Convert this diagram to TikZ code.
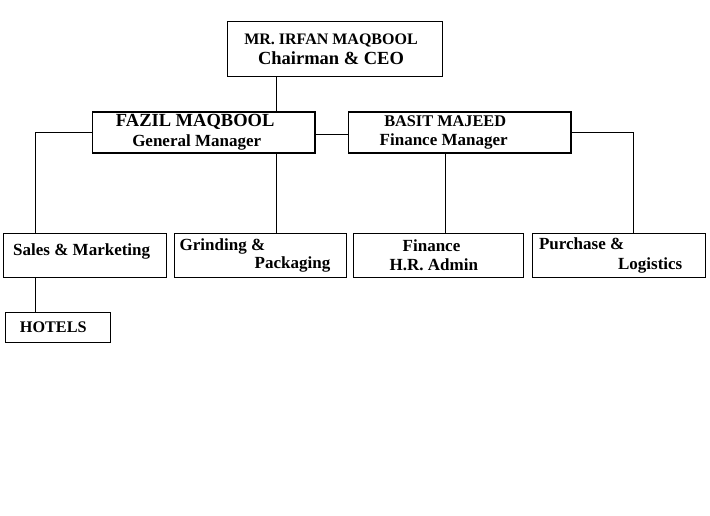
\documentclass[tikz,border=0pt]{standalone}
\usepackage{fontspec}
\setmainfont{Liberation Serif}
\usetikzlibrary{positioning}

\begin{document}
\begin{tikzpicture}[
  x=1pt, y=-1pt,
  node distance=8pt,
  box/.style={draw, line width=1.3pt, inner sep=2pt, align=center, minimum height=44pt,
    font=\bfseries\fontsize{17}{19.5}\selectfont},
  link/.style={line width=1.3pt}
]
\useasboundingbox (0,0) rectangle (710,516);

% top level
\node[box, minimum width=215pt, minimum height=55pt] (ceo) at (335,49.3)
  {{\fontsize{16}{19}\selectfont MR. IRFAN MAQBOOL}\hspace*{8pt}\\
   {\fontsize{18.5}{20}\selectfont Chairman \& CEO}\hspace*{8pt}};

% managers
\node[box, minimum width=222.5pt, minimum height=41pt] (gm) at (203.7,132.4)
  {{\fontsize{18.5}{20}\selectfont FAZIL MAQBOOL}\hspace*{17pt}\\[1pt]
   General Manager\hspace*{14pt}};
\node[box, minimum width=222.5pt, minimum height=41pt, right=32.2pt of gm] (fm)
  {{\fontsize{16.3}{19}\selectfont BASIT MAJEED}\hspace*{29pt}\\[-1pt]
   Finance Manager\hspace*{32pt}};

% departments
\node[box, minimum width=163.4pt, text depth=11pt] (sales) at (85,255.3)
  {Sales \& Marketing\hspace*{6.6pt}};
\node[box, minimum width=172.4pt, align=left, right=6.3pt of sales] (grind)
  {Grinding \&\\[-1pt]
   \hspace*{75pt}Packaging\hspace*{11pt}};
\node[box, minimum width=170pt, right=5.3pt of grind] (fin)
  {Finance\hspace*{13.6pt}\\
   H.R. Admin\hspace*{9pt}};
\node[box, minimum width=173pt, align=left, right=8.1pt of fin] (purch)
  {Purchase \&\\[0.5pt]
   \hspace*{79pt}Logistics\hspace*{17pt}};
\node[box, minimum width=105pt, minimum height=30pt] (hotels) at (57.8,327.7)
  {{\fontsize{16.2}{19}\selectfont HOTELS}\hspace*{9pt}};

% connectors
\draw[link] ([xshift=-58.5pt]ceo.south) -- ([xshift=-58.5pt]ceo.south |- gm.north);
\draw[link] ([yshift=-2pt]gm.east) -- ([yshift=-2pt]fm.west);
\draw[link] (gm.west) -| ([xshift=-49.7pt]sales.north);
\draw[link] ([xshift=72.5pt]gm.south) -- ([xshift=72.5pt]gm.south |- grind.north);
\draw[link] ([xshift=-14.5pt]fm.south) -- ([xshift=-14.5pt]fm.south |- fin.north);
\draw[link] (fm.east) -| ([xshift=14.5pt]purch.north);
\draw[link] ([xshift=-49.7pt]sales.south) -- ([xshift=-49.7pt]sales.south |- hotels.north);
\end{tikzpicture}
\end{document}
